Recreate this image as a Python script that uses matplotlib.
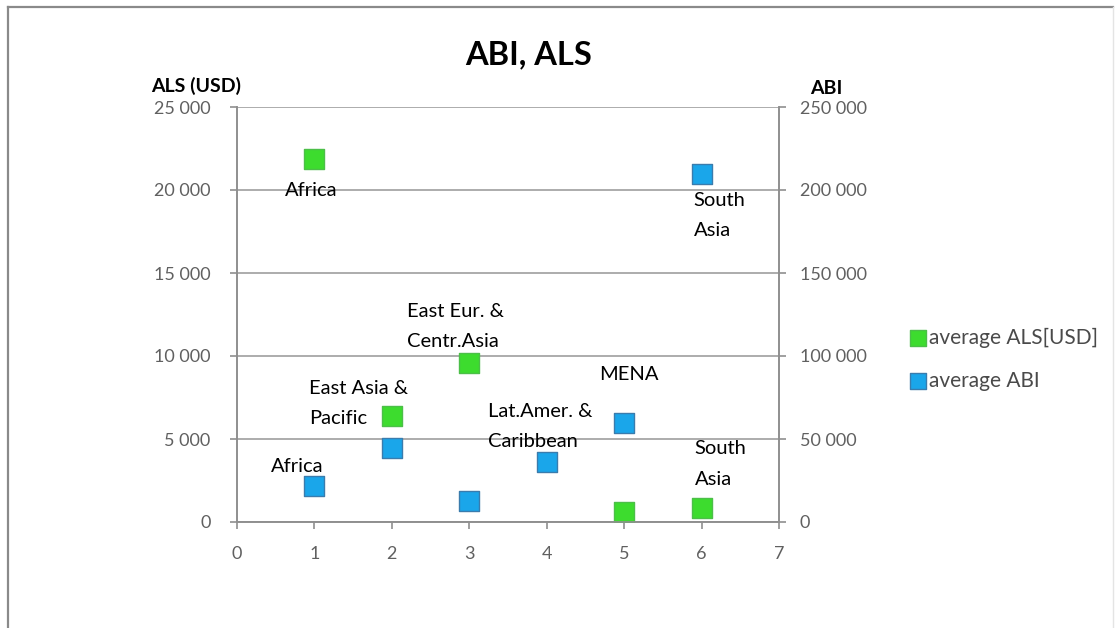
import matplotlib.pyplot as plt
import numpy as np
from matplotlib.lines import Line2D

plt.rcParams['font.family'] = ['Lato', 'DejaVu Sans']

# region index on the x axis
regions = [1, 2, 3, 4, 5, 6]
region_names = ["Africa", "East Asia &\nPacific", "East Eur. &\nCentr.Asia",
                "Lat.Amer. &\nCaribbean", "MENA", "South\nAsia"]

# average ALS in USD (left axis), no value for Lat.Amer.
als_avg = [21850, 6400, 9600, np.nan, 620, 840]
# average ABI (right axis)
abi_avg = [21700, 44800, 12700, 36300, 59700, 209500]

als_ticks = [0, 5000, 10000, 15000, 20000, 25000]
abi_ticks = [0, 50000, 100000, 150000, 200000, 250000]
x_ticks = [0, 1, 2, 3, 4, 5, 6, 7]

W, H = 1117, 628
fig = plt.figure(figsize=(W / 100, H / 100), dpi=100)

def fx(px):
    return px / W

def fy(py):
    return 1 - py / H

# chart frame
fig.add_artist(Line2D([fx(8), fx(8)], [0, fy(7)], color='#8a8a8a', lw=1.6))
fig.add_artist(Line2D([fx(8), fx(1113)], [fy(7), fy(7)], color='#8a8a8a', lw=1.6))
fig.add_artist(Line2D([fx(1113), fx(1113)], [0, fy(7)], color='#e4e4e4', lw=1.0))

ax = fig.add_axes([fx(237), fy(522), fx(779 - 237), (522 - 107) / H])
ax2 = ax.twinx()

grey = '#8f8f8f'
tick_col = '#606060'

ax.set_xlim(0, 7)
ax.set_ylim(0, 25000)
ax2.set_ylim(0, 250000)
ax.set_xticks(x_ticks)
ax.set_yticks(als_ticks)
ax2.set_yticks(abi_ticks)

fmt = lambda v: '{:,}'.format(v).replace(',', ' ')
ax.set_yticklabels([fmt(v) for v in als_ticks])
ax2.set_yticklabels([fmt(v) for v in abi_ticks])

for a in (ax, ax2):
    for s in a.spines.values():
        s.set_color(grey)
        s.set_linewidth(1.2)
    a.spines['top'].set_visible(False)
    a.tick_params(colors=grey, labelcolor=tick_col, labelsize=13, length=5, width=1.2)
ax.tick_params(axis='x', pad=12)
ax.tick_params(axis='y', pad=14)
ax2.tick_params(axis='y', pad=10)
ax.yaxis.grid(True, color='#a6a6a6', lw=1.3)
ax.set_axisbelow(True)

# markers
ax.scatter(regions, als_avg, marker='s', s=200, color='#3ddc2e',
           edgecolor='#4cbf48', linewidth=1, zorder=3, label='average ALS[USD]')
ax2.scatter(regions, abi_avg, marker='s', s=200, color='#1aa6ea',
            edgecolor='#3a7cad', linewidth=1, zorder=3, label='average ABI')

# data labels: (region, dx, dy, ha) in pixels from the marker
als_labels = [(1, -3, -31, 'center'), (2, -83, 12, 'left'),
              (3, -62, 36, 'left'), (6, -7, 44, 'left')]
abi_labels = [(1, -17, 19, 'center'), (4, -59, 35, 'left'),
              (5, 5, 48, 'center'), (6, -8, -41, 'left')]

for a, vals, labels in ((ax, als_avg, als_labels), (ax2, abi_avg, abi_labels)):
    for r, dx, dy, ha in labels:
        i = regions.index(r)
        a.annotate(region_names[i], (regions[i], vals[i]), xytext=(dx, dy),
                   textcoords='offset pixels', ha=ha, va='center',
                   fontsize=14.5, color='black', linespacing=1.95, zorder=4)

fig.text(fx(529), fy(55), 'ABI, ALS', ha='center', va='center',
         fontsize=23.5, fontweight='bold', color='black')
fig.text(fx(196), fy(86), 'ALS (USD)', ha='center', va='center',
         fontsize=14, fontweight='bold', color='black')
fig.text(fx(826), fy(88), 'ABI', ha='center', va='center',
         fontsize=14, fontweight='bold', color='black')

h1, l1 = ax.get_legend_handles_labels()
h2, l2 = ax2.get_legend_handles_labels()
fig.legend(h1 + h2, l1 + l2, loc='center left', bbox_to_anchor=(fx(899), fy(359)),
           frameon=False, fontsize=15, handletextpad=0.05, labelspacing=1.1,
           handlelength=1.0, borderaxespad=0, markerscale=0.8,
           labelcolor='#4a4a4a')

fig.savefig('out.png', dpi=100)
